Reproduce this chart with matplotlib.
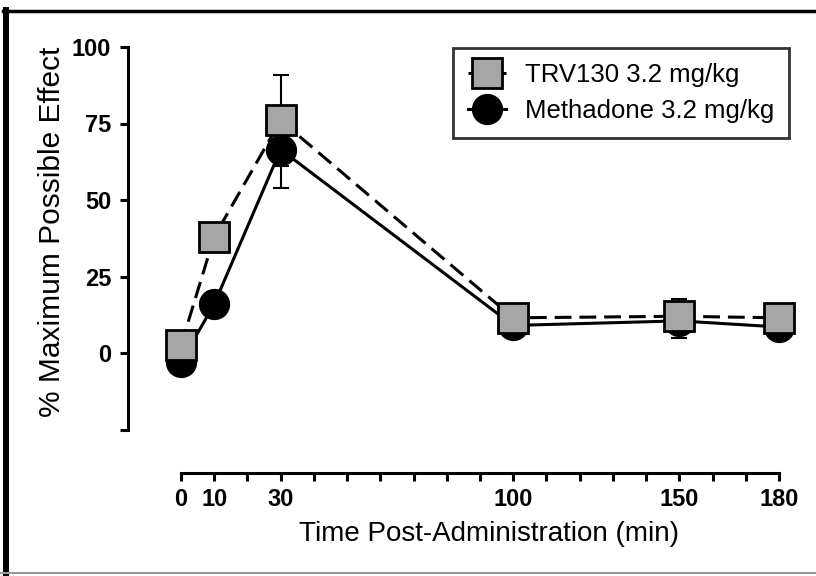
import matplotlib
matplotlib.use("Agg")
import matplotlib.pyplot as plt
from matplotlib.lines import Line2D

plt.rcParams['font.family'] = ['Liberation Sans', 'DejaVu Sans']

# data
time_min = [0, 10, 30, 100, 150, 180]
trv130_mpe = [2.5, 38, 76, 11.5, 12, 11.5]
trv130_sem = [2, 4, 15, 3, 5.5, 3]
methadone_mpe = [-3, 16, 66.5, 9, 10.5, 8.5]
methadone_sem = [3, 4, 12.5, 3, 5.5, 3]

x_ticks = list(range(0, 181, 10))
x_ticklabels = ['0', '10', '', '30', '', '', '', '', '', '', '100',
                '', '', '', '', '150', '', '', '180']
y_ticks = [-25, 0, 25, 50, 75, 100]
y_ticklabels = ['', '0', '25', '50', '75', '100']

W, H = 816, 576
fig = plt.figure(figsize=(W / 100, H / 100), dpi=100)

# axes placed in pixels: x 0 -> 181 px, 180 -> 779 px ; y 0 -> 353 px, 100 -> 47 px
xpx = (779 - 181) / 180
ypx = (353 - 47) / 100
xlim = (-16, 186)
ylim = ((353 - 473) / ypx, (353 - 31.7) / ypx)
left = 181 + xlim[0] * xpx
width = (xlim[1] - xlim[0]) * xpx
bottom_px = 473
height = (ylim[1] - ylim[0]) * ypx
ax = fig.add_axes([left / W, (H - bottom_px) / H, width / W, height / H])
ax.set_xlim(*xlim)
ax.set_ylim(*ylim)

lw = 2.2
ms = 21
# methadone first so squares sit on top
ax.errorbar(time_min, methadone_mpe, yerr=methadone_sem, fmt='none',
            ecolor='black', elinewidth=1.5, capsize=5.5, capthick=1.5, zorder=2)
h_meth, = ax.plot(time_min, methadone_mpe, '-', color='black', lw=lw,
                  marker='o', ms=ms, mfc='black', mec='black', mew=1.5,
                  zorder=3, label='Methadone 3.2 mg/kg')
ax.errorbar(time_min, trv130_mpe, yerr=trv130_sem, fmt='none',
            ecolor='black', elinewidth=1.5, capsize=5.5, capthick=1.5, zorder=2)
h_trv, = ax.plot(time_min, trv130_mpe, color='black', lw=lw, ls=(0, (5.5, 2.6)),
                 marker='s', ms=ms, mfc='#a6a6a6', mec='black', mew=2,
                 zorder=4, label='TRV130 3.2 mg/kg')

for s in ['top', 'right']:
    ax.spines[s].set_visible(False)
ax.spines['left'].set_bounds(-25, 100)
ax.spines['bottom'].set_bounds(0, 180)
ax.spines['left'].set_linewidth(2.2)
ax.spines['bottom'].set_linewidth(2.2)

ax.set_xticks(x_ticks)
ax.set_xticklabels(x_ticklabels, fontsize=17, fontweight='bold')
ax.set_yticks(y_ticks)
ax.set_yticklabels(y_ticklabels, fontsize=17, fontweight='bold')
ax.tick_params(axis='x', direction='out', length=6, width=2.2, pad=4.5)
ax.tick_params(axis='y', direction='out', length=6, width=2.2, pad=6)

ax.set_xlabel('Time Post-Administration (min)', fontsize=20)
ax.set_ylabel('% Maximum Possible Effect', fontsize=21.5)
ax.xaxis.set_label_coords((489 - left) / width, (bottom_px - 521) / height)
ax.yaxis.set_label_coords((66 - left) / width, (bottom_px - 231.5) / height)

leg = ax.legend(handles=[h_trv, h_meth], loc='upper right',
                bbox_to_anchor=(789 / W, 1 - 48 / H),
                bbox_transform=fig.transFigure, borderaxespad=0,
                fontsize=18.5, frameon=True, fancybox=False, edgecolor='black',
                handlelength=1.45, handletextpad=0.75, labelspacing=0.48,
                borderpad=0.58)
leg.get_frame().set_linewidth(2)

# outer frame of the figure (left and top thick, bottom thin grey)
fig.add_artist(Line2D([6 / W, 6 / W], [1 - 9.5 / H, 0], color='black', lw=4.3,
                      transform=fig.transFigure))
fig.add_artist(Line2D([3 / W, 1], [1 - 11.3 / H, 1 - 11.3 / H], color='black',
                      lw=2.5, transform=fig.transFigure))
fig.add_artist(Line2D([0, 1], [1 - 573 / H, 1 - 573 / H], color='#999999',
                      lw=1.5, transform=fig.transFigure))

fig.savefig('out.png', dpi=100)
